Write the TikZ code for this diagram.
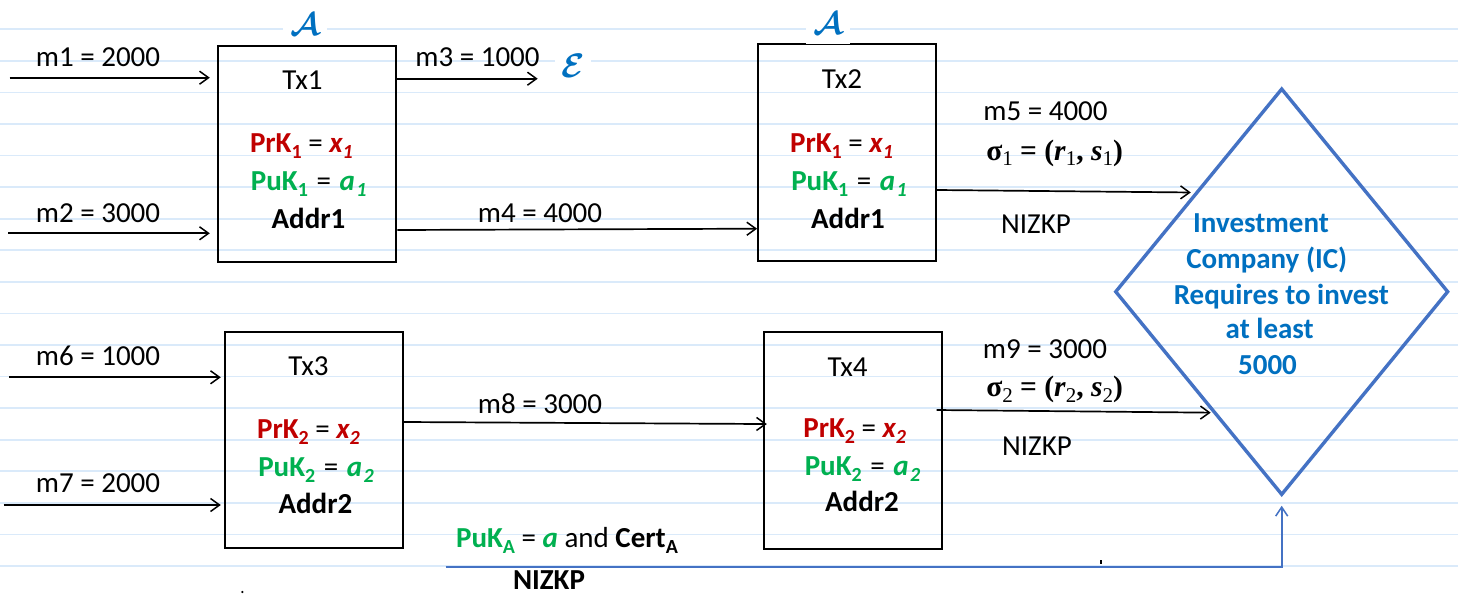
\documentclass[tikz,border=0pt]{standalone}
\usepackage{fontspec}
\setmainfont{Carlito}
\newfontfamily\tnr{Liberation Serif}
\usetikzlibrary{arrows.meta,shapes.geometric,calc}
\definecolor{myred}{RGB}{192,0,0}
\definecolor{mygreen}{RGB}{0,176,80}
\definecolor{myblue}{RGB}{0,112,192}
\definecolor{dblue}{RGB}{68,114,196}
\definecolor{ruleblue}{RGB}{218,234,250}
\newcommand\fsz{\fontsize{29}{35}\selectfont}
\newcommand\lowi[1]{\raisebox{-0.22em}{\fontsize{20}{20}\selectfont #1}}
\newcommand\lows[1]{\raisebox{-0.2em}{\mdseries\upshape\fontsize{21}{21}\selectfont #1}}
\newcommand\bigcal[2]{{\fontsize{10}{10}\selectfont\scalebox{#1}{\boldmath$\mathcal{#2}$}}}
\begin{document}
\begin{tikzpicture}[x=1pt,y=-1pt,
  lab/.style={anchor=base,inner sep=0pt,font=\fsz},
  blab/.style={anchor=base,inner sep=0pt,font=\fsz\bfseries},
  sig/.style={anchor=base,inner sep=0pt,font=\tnr\bfseries\fontsize{29.5}{34}\selectfont},
  iclab/.style={anchor=base,inner sep=0pt,font=\fsz\bfseries,text=myblue},
  txbox/.style={draw,line width=2pt,minimum width=178pt,minimum height=216.5pt,inner sep=0pt},
  arr/.style={line width=1.7pt,-{Straight Barb[length=9pt,width=13pt,line width=1.5pt]}},
  barr/.style={draw=dblue,line width=2pt,-{Straight Barb[length=9pt,width=12pt,line width=1.5pt]}},
  rulel/.style={draw=ruleblue,line width=1.8pt},
  calig/.style={fill=white,text=myblue,inner sep=0pt},
]
\useasboundingbox (0,0) rectangle (1458,597);
\fill[white] (0,0) rectangle (1458,597);
% notebook rules
\foreach \k in {0,...,17}{
  \draw[rulel] (0,{29.3+31.57*\k}) -- (1458,{29.3+31.57*\k});
}
% transaction boxes
\node[txbox] (tx1) at (307.3,153.9) {};
\node[txbox] (tx2) at (847.1,152.4) {};
\node[txbox] (tx3) at (314.2,440.0) {};
\node[txbox] (tx4) at (852.8,440.7) {};
% adversary / eavesdropper marks
\node[calig,minimum width=44pt,minimum height=40pt] (A1) at (305,25) {\bigcal{3.2}{A}};
\node[calig,minimum width=44pt,minimum height=40pt] (A2) at (828,23.5) {\bigcal{3.2}{A}};
\node[calig,minimum width=36pt,minimum height=26pt] (E) at (573,66) {\bigcal{3.4}{E}};
% box contents
\node[lab] (t1) at (302.5,89.5) {Tx1};
\node[blab] (p1) at (301.4,152) {\textcolor{myred}{PrK\lowi{1}} \mdseries= \textcolor{myred}{\bfseries\itshape x\lowi{1}}};
\node[blab] (q1) at (308.7,190) {\textcolor{mygreen}{PuK\lowi{1}}\hspace{2pt} \mdseries= \hspace{2pt}\textcolor{mygreen}{\bfseries\itshape a\hspace{1.5pt}\lowi{1}}};
\node[blab] (d1) at (308.5,228) {Addr1};
\node[lab] (t2) at (842,88.5) {Tx2};
\node[blab] (p2) at (841.5,152) {\textcolor{myred}{PrK\lowi{1}} \mdseries= \textcolor{myred}{\bfseries\itshape x\lowi{1}}};
\node[blab] (q2) at (849,190) {\textcolor{mygreen}{PuK\lowi{1}}\hspace{2pt} \mdseries= \hspace{2pt}\textcolor{mygreen}{\bfseries\itshape a\hspace{1.5pt}\lowi{1}}};
\node[blab] (d2) at (848,228) {Addr1};
\node[lab] (t3) at (308.5,375.5) {Tx3};
\node[blab] (p3) at (308.5,438.5) {\textcolor{myred}{PrK\lowi{2}} \mdseries= \textcolor{myred}{\bfseries\itshape x\lowi{2}}};
\node[blab] (q3) at (316,476.5) {\textcolor{mygreen}{PuK\lowi{2}}\hspace{2pt} \mdseries= \hspace{2pt}\textcolor{mygreen}{\bfseries\itshape a\hspace{1.5pt}\lowi{2}}};
\node[blab] (d3) at (315.4,513) {Addr2};
\node[lab] (t4) at (847.6,376) {Tx4};
\node[blab] (p4) at (854.7,437.5) {\textcolor{myred}{PrK\lowi{2}} \mdseries= \textcolor{myred}{\bfseries\itshape x\lowi{2}}};
\node[blab] (q4) at (862.5,475) {\textcolor{mygreen}{PuK\lowi{2}}\hspace{2pt} \mdseries= \hspace{2pt}\textcolor{mygreen}{\bfseries\itshape a\hspace{1.5pt}\lowi{2}}};
\node[blab] (d4) at (862,511) {Addr2};
% investment company
\node[draw=dblue,line width=3.4pt,diamond,minimum width=333.3pt,minimum height=406.7pt,inner sep=0pt] (ic) at (1281.7,291.7) {};
\node[iclab] (ic1) at (1261,232) {Investment};
\node[iclab] (ic2) at (1266.7,268.7) {Company (IC)};
\node[iclab] (ic3) at (1281.3,304.7) {Requires to invest};
\node[iclab] (ic4) at (1269.7,338) {at least};
\node[iclab] (ic5) at (1267.5,374.7) {5000};
% labels
\node[lab] (m1l) at (98,66.8) {m1 = 2000};
\node[lab] (m2l) at (98,222.5) {m2 = 3000};
\node[lab] (m3l) at (477.5,66.8) {m3 = 1000};
\node[lab] (m4l) at (540,222.5) {m4 = 4000};
\node[lab] (m5l) at (1045.5,120) {m5 = 4000};
\node[sig] (s1) at (1054.6,160) {σ\lows{1} = (\textit{r}\lows{1}, \textit{s}\lows{1})};
\node[lab] (nz1) at (1036,233.3) {NIZKP};
\node[lab] (m6l) at (98,365.5) {m6 = 1000};
\node[lab] (m7l) at (98,492) {m7 = 2000};
\node[lab] (m8l) at (540,413.5) {m8 = 3000};
\node[lab] (m9l) at (1045,358.8) {m9 = 3000};
\node[sig] (s2) at (1054.6,396.6) {σ\lows{2} = (\textit{r}\lows{2}, \textit{s}\lows{2})};
\node[lab] (nz2) at (1037,455) {NIZKP};
\node[lab] (pka) at (567,547.5) {\textcolor{mygreen}{\bfseries PuK\lowi{A}} = \textcolor{mygreen}{\bfseries\itshape a} and \textbf{Cert\lowi{A}}};
\node[blab] (nzb) at (549,589.5) {NIZKP};
% arrows
\coordinate (m1s) at (9.6,77.7);
\coordinate (m2s) at (8.4,233.3);
\coordinate (m6s) at (9,377.3);
\coordinate (m7s) at (3.6,505);
\coordinate (m3e) at (537.7,78.7);
\draw[arr,shorten >=7.5pt] (m1s) -- (tx1.west |- m1s);
\draw[arr,shorten >=7.5pt] (m2s) -- (tx1.west |- m2s);
\draw[arr] (tx1.east |- m3e) -- (m3e);
\draw[arr] (tx1.east |- 0,230) -- (tx2.west |- 0,228.7);
\draw[arr,shorten >=4pt] (tx2.east |- 0,190) -- ($(ic.west)!0.4837!(ic.north)$);
\draw[arr,shorten >=3.4pt] (m6s) -- (tx3.west |- m6s);
\draw[arr,shorten >=3.4pt] (m7s) -- (tx3.west |- m7s);
\draw[arr,shorten >=-4pt] (tx3.east |- 0,422) -- (tx4.west |- 0,424);
\draw[arr,shorten >=2pt] ($(tx4.east |- 0,410)+(-6.3,0)$) -- ($(ic.west)!0.59!(ic.south)$);
\coordinate (pa) at (445.5,566.5);
\draw[barr,shorten >=9pt] (pa) -- (ic.south |- pa) -- (ic.south);
% stray marks
\fill (242.4,592) circle (1.2);
\fill (1100.4,559.5) rectangle (1101.8,563.5);
\end{tikzpicture}
\end{document}
